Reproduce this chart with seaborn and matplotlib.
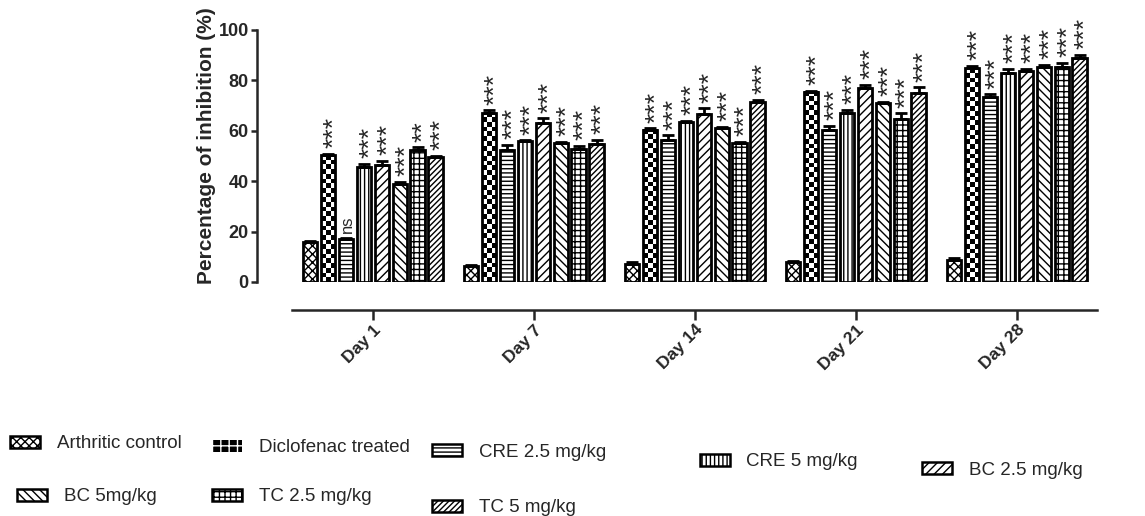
import numpy as np
import pandas as pd
import matplotlib
matplotlib.use("Agg")
import matplotlib.pyplot as plt
from matplotlib.patches import Patch
import seaborn as sns

DAYS = ["Day 1", "Day 7", "Day 14", "Day 21", "Day 28"]
GROUPS = ["Arthritic control", "Diclofenac treated", "CRE 2.5 mg/kg", "CRE 5 mg/kg",
          "BC 2.5 mg/kg", "BC 5mg/kg", "TC 2.5 mg/kg", "TC 5 mg/kg"]

# mean % inhibition per group (Day 1, 7, 14, 21, 28)
ARTHRITIC = [15.8, 6.2, 7.3, 8.0, 8.9]
DICLOFENAC = [50.3, 67.1, 60.5, 75.4, 84.9]
CRE_25 = [17.1, 52.5, 56.2, 60.5, 73.4]
CRE_5 = [45.5, 55.8, 63.4, 67.1, 83.0]
BC_25 = [46.3, 63.1, 66.5, 77.0, 83.7]
BC_5 = [38.7, 55.2, 61.1, 71.0, 85.4]
TC_25 = [52.5, 52.9, 55.2, 64.5, 85.4]
TC_5 = [49.5, 54.9, 71.5, 74.8, 88.7]

# SEM (upper error bar only)
SEM_ARTHRITIC = [0.5, 0.5, 0.5, 0.5, 0.5]
SEM_DICLOFENAC = [0.5, 1.0, 0.5, 0.5, 1.0]
SEM_CRE_25 = [0.5, 2.0, 2.0, 1.5, 1.0]
SEM_CRE_5 = [1.5, 0.5, 0.5, 1.2, 1.5]
SEM_BC_25 = [1.8, 1.8, 2.5, 1.2, 1.0]
SEM_BC_5 = [1.0, 0.5, 0.5, 0.5, 0.8]
SEM_TC_25 = [1.0, 1.2, 0.5, 2.5, 1.5]
SEM_TC_5 = [0.5, 1.5, 0.8, 2.5, 1.5]

# significance marks
SIG_ARTHRITIC = ["", "", "", "", ""]
SIG_DICLOFENAC = ["***", "***", "***", "***", "***"]
SIG_CRE_25 = ["ns", "***", "***", "***", "***"]
SIG_CRE_5 = ["***", "***", "***", "***", "***"]
SIG_BC_25 = ["***", "***", "***", "***", "***"]
SIG_BC_5 = ["***", "***", "***", "***", "***"]
SIG_TC_25 = ["**", "***", "***", "***", "***"]
SIG_TC_5 = ["***", "***", "***", "***", "***"]

MEANS = [ARTHRITIC, DICLOFENAC, CRE_25, CRE_5, BC_25, BC_5, TC_25, TC_5]
SEMS = [SEM_ARTHRITIC, SEM_DICLOFENAC, SEM_CRE_25, SEM_CRE_5,
        SEM_BC_25, SEM_BC_5, SEM_TC_25, SEM_TC_5]
SIGS = [SIG_ARTHRITIC, SIG_DICLOFENAC, SIG_CRE_25, SIG_CRE_5,
        SIG_BC_25, SIG_BC_5, SIG_TC_25, SIG_TC_5]

HATCHES = ["xxxx", "", "----", "||||", "////", "\\\\\\\\", "+++", "//////"]

# legend entry anchors (figure fraction, left/centre of handle)
LEGEND_POS = [(0.009, 0.140), (0.185, 0.132), (0.377, 0.124), (0.611, 0.105),
              (0.805, 0.089), (0.015, 0.037), (0.185, 0.037), (0.377, 0.016)]

df = pd.DataFrame({
    "day": np.tile(DAYS, len(GROUPS)),
    "group": np.repeat(GROUPS, len(DAYS)),
    "value": np.concatenate(MEANS),
})

sns.set_style("ticks")
plt.rcParams["font.family"] = ["Liberation Sans", "DejaVu Sans"]
plt.rcParams["hatch.linewidth"] = 1.0

fig = plt.figure(figsize=(11.45, 5.16), dpi=100)
ax = fig.add_axes([0.2245, 0.4535, 0.748, 0.4884])

sns.barplot(
    data=df, x="day", y="value", hue="group",
    order=DAYS, hue_order=GROUPS,
    palette=["white"] * len(GROUPS),
    width=0.89, gap=0.2, errorbar=None,
    edgecolor="black", linewidth=2.0,
    legend=False, ax=ax,
)

ax.set_xlim(-0.719, 4.6)
ax.set_ylim(0, 100)

for cont, hatch in zip(ax.containers, HATCHES):
    for bar in cont:
        bar.set_hatch(hatch)
        bar.set_edgecolor("black")

# Diclofenac: checkerboard fill, clipped to each bar
for bar in ax.containers[1]:
    x0, y0, w, h = bar.get_x(), bar.get_y(), bar.get_width(), bar.get_height()
    (px0, py0), (px1, py1) = ax.transData.transform([(x0, y0), (x0 + w, y0 + h)])
    ncols = 3
    nrows = max(1, int(round((py1 - py0) / ((px1 - px0) / ncols))))
    board = np.indices((nrows, ncols)).sum(axis=0) % 2
    ax.imshow(board, cmap="gray_r", extent=(x0, x0 + w, y0, y0 + h),
              origin="lower", interpolation="nearest", aspect="auto", zorder=0.9)
    bar.set_facecolor("none")

ax.set_xlim(-0.719, 4.6)
ax.set_ylim(0, 100)

for cont, mean, sem, sig in zip(ax.containers, MEANS, SEMS, SIGS):
    xs = [b.get_x() + b.get_width() / 2 for b in cont]
    ax.errorbar(xs, mean, yerr=[np.zeros(len(sem)), sem], fmt="none",
                ecolor="black", elinewidth=2.0, capsize=4, capthick=2.0, zorder=3)
    for x, m, s, lab in zip(xs, mean, sem, sig):
        if not lab:
            continue
        if lab == "ns":
            ax.annotate(lab, (x, m + s), xytext=(1, 3), textcoords="offset points",
                        rotation=90, ha="center", va="bottom", fontsize=12,
                        annotation_clip=False)
        else:
            ax.annotate(lab, (x, m + s), xytext=(4.5, 4), textcoords="offset points",
                        rotation=90, ha="center", va="bottom", fontsize=19,
                        annotation_clip=False)

sns.despine(ax=ax)
ax.spines["left"].set_bounds(0, 100)
ax.spines["bottom"].set_position(("outward", 20))
ax.spines["bottom"].set_bounds(-0.5, 4.5)
for side in ["left", "bottom"]:
    ax.spines[side].set_linewidth(1.8)

ax.set_yticks(range(0, 101, 20))
ax.set_xticks(range(len(DAYS)))
ax.set_xticklabels(DAYS, rotation=45, ha="right", rotation_mode="anchor",
                   fontweight="bold", fontsize=12.5)
for lab in ax.get_yticklabels():
    lab.set_fontweight("bold")
    lab.set_fontsize(13)
ax.tick_params(axis="x", length=7, width=1.8, pad=2)
ax.tick_params(axis="y", length=4, width=1.8, pad=2)
ax.set_xlabel("")
ax.set_ylabel("Percentage of inhibition (%)", fontsize=15, fontweight="bold", labelpad=3)
ax.yaxis.set_label_coords(-0.048, 0.54)

for group, hatch, pos in zip(GROUPS, HATCHES, LEGEND_POS):
    if group == "Diclofenac treated":
        handle = Patch(facecolor="black", edgecolor="white", hatch="++", linewidth=0)
    else:
        handle = Patch(facecolor="white", edgecolor="black", hatch=hatch, linewidth=1.8)
    fig.legend(handles=[handle], labels=[group], loc="center left",
               bbox_to_anchor=pos, frameon=False, fontsize=13.5,
               handlelength=1.6, handleheight=0.6, handletextpad=0.9,
               borderpad=0, borderaxespad=0)

fig.savefig("out.png", dpi=100)
